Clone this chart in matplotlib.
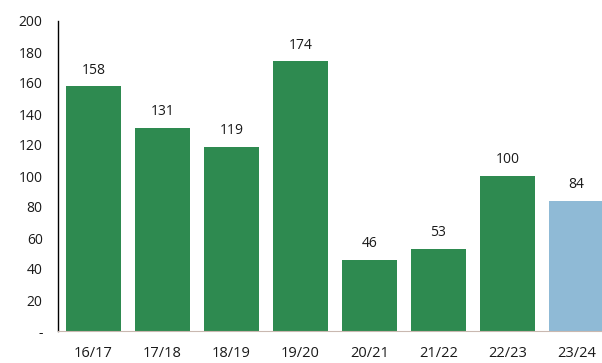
import matplotlib.pyplot as plt

seasons = ['16/17', '17/18', '18/19', '19/20', '20/21', '21/22', '22/23', '23/24']
counts = [158, 131, 119, 174, 46, 53, 100, 84]
bar_colors = ['#2e8a50'] * 7 + ['#8fbad6']
y_ticks = [0, 20, 40, 60, 80, 100, 120, 140, 160, 180, 200]
y_tick_labels = ['-'] + [str(v) for v in y_ticks[1:]]

plt.rcParams['font.family'] = ['Open Sans', 'DejaVu Sans']

fig = plt.figure(figsize=(6.02, 3.63), dpi=100)
ax = fig.add_axes([58 / 602, 1 - 331 / 363, 1 - 58 / 602, (331 - 21) / 363])

x = range(len(seasons))
bars = ax.bar(x, counts, width=0.81, color=bar_colors)
for xi, v in zip(x, counts):
    ax.text(xi, v + 5.5, str(v), ha='center', va='bottom', fontsize=10, color='#1a1a1a')

ax.set_xlim(-0.515, 7.37)
ax.set_ylim(0, 200)
ax.set_yticks(y_ticks)
ax.set_yticklabels(y_tick_labels, fontsize=10, color='#1a1a1a')
ax.set_xticks(list(x))
ax.set_xticklabels(seasons, fontsize=10.5, color='#1a1a1a')
ax.tick_params(axis='both', length=0)
ax.tick_params(axis='y', pad=11)
ax.tick_params(axis='x', pad=11)

for side in ['top', 'right']:
    ax.spines[side].set_visible(False)
ax.spines['left'].set_color('black')
ax.spines['left'].set_linewidth(1.0)
ax.spines['bottom'].set_color('#c9b8b0')
ax.spines['bottom'].set_linewidth(0.8)

fig.savefig('out.png', dpi=100)
